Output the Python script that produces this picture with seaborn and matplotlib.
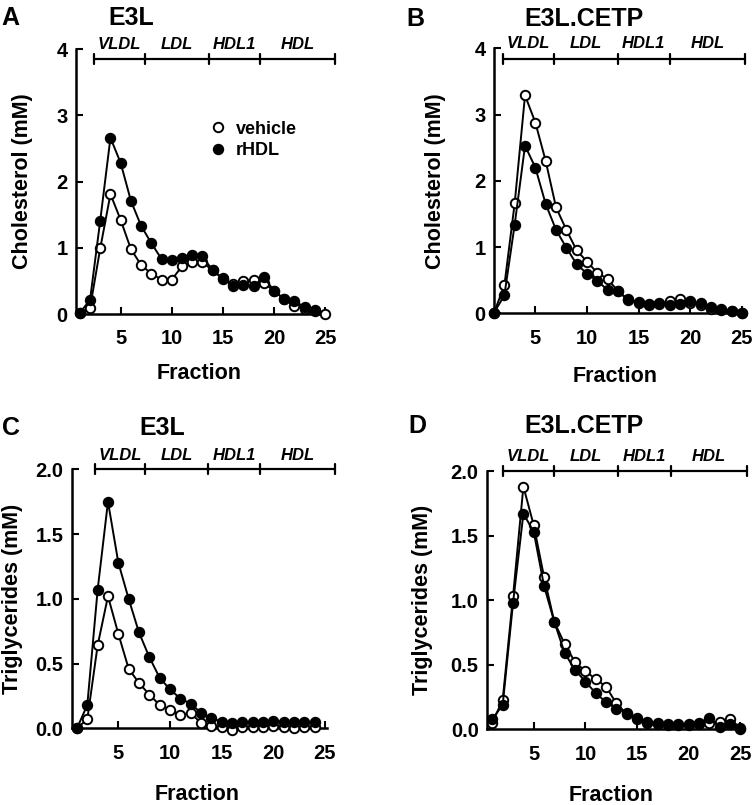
import numpy as np
import pandas as pd
import matplotlib
matplotlib.use("Agg")
import matplotlib.pyplot as plt
from matplotlib.lines import Line2D
import seaborn as sns

# data
frac25 = list(range(1, 26))
frac24 = list(range(1, 25))

# A: E3L cholesterol
chol_e3l_vehicle = [0.02, 0.09, 0.99, 1.81, 1.42, 0.98, 0.74, 0.61, 0.52, 0.52, 0.72, 0.79, 0.78,
                    0.66, 0.53, 0.45, 0.50, 0.52, 0.47, 0.35, 0.23, 0.12, 0.08, 0.04, 0.00]
chol_e3l_rhdl = [0.02, 0.21, 1.41, 2.66, 2.28, 1.71, 1.33, 1.07, 0.83, 0.81, 0.84, 0.89, 0.87,
                 0.66, 0.54, 0.43, 0.44, 0.42, 0.56, 0.35, 0.22, 0.19, 0.11, 0.06]

# B: E3L.CETP cholesterol
chol_cetp_vehicle = [0.01, 0.42, 1.66, 3.29, 2.88, 2.30, 1.60, 1.26, 0.95, 0.78, 0.61, 0.52, 0.33,
                     0.20, 0.16, 0.13, 0.14, 0.18, 0.21, 0.15, 0.12, 0.07, 0.05, 0.03, 0.00]
chol_cetp_rhdl = [0.01, 0.27, 1.34, 2.53, 2.20, 1.65, 1.26, 0.99, 0.74, 0.60, 0.49, 0.35, 0.33,
                  0.21, 0.17, 0.14, 0.15, 0.12, 0.14, 0.18, 0.15, 0.09, 0.06, 0.04, 0.01]

# C: E3L triglycerides
tg_e3l_vehicle = [0.00, 0.07, 0.64, 1.02, 0.73, 0.46, 0.35, 0.26, 0.18, 0.14, 0.10, 0.12, 0.04,
                  0.02, 0.01, -0.01, 0.01, 0.01, 0.01, 0.02, 0.01, 0.00, 0.01, 0.01]
tg_e3l_rhdl = [0.00, 0.18, 1.07, 1.75, 1.28, 1.00, 0.74, 0.55, 0.39, 0.30, 0.23, 0.19, 0.12,
               0.08, 0.05, 0.04, 0.05, 0.05, 0.05, 0.06, 0.05, 0.05, 0.05, 0.05]

# D: E3L.CETP triglycerides
tg_cetp_vehicle = [0.05, 0.23, 1.03, 1.88, 1.58, 1.18, 0.83, 0.66, 0.52, 0.45, 0.39, 0.33, 0.20,
                   0.12, 0.08, 0.05, 0.04, 0.03, 0.03, 0.03, 0.04, 0.05, 0.06, 0.08, 0.01]
tg_cetp_rhdl = [0.08, 0.19, 0.98, 1.67, 1.53, 1.11, 0.83, 0.59, 0.46, 0.37, 0.28, 0.21, 0.16,
                0.13, 0.09, 0.06, 0.05, 0.04, 0.04, 0.04, 0.05, 0.09, 0.02, 0.04, 0.00]

region_names = ["VLDL", "LDL", "HDL1", "HDL"]

sns.set_style("ticks")
plt.rcParams["font.family"] = ["Liberation Sans", "DejaVu Sans"]
plt.rcParams["font.weight"] = "bold"
# pure black text and axes (seaborn defaults to dark grey)
for key in ["text.color", "axes.labelcolor", "xtick.color", "ytick.color", "axes.edgecolor"]:
    plt.rcParams[key] = "black"

fig = plt.figure(figsize=(7.54, 8.05), dpi=100)

# panel settings: axes rect, limits, ticks, bracket edges and heights, text spots
panels = [
    dict(rect=[0.1008, 0.6099, 0.3439, 0.3292], xlim=(0.63, 26.0), ylim=(0, 4),
         yticks=[0, 1, 2, 3, 4], ylabels=["0", "1", "2", "3", "4"],
         bracket=[2.4, 7.4, 13.6, 18.6, 26.0], by=3.85, ly=4.07,
         x1=frac25, y1=chol_e3l_vehicle, x2=frac24, y2=chol_e3l_rhdl,
         ylab="Cholesterol (mM)", letter="A", title="E3L",
         letter_xy=(0.002, 0.978), title_xy=(0.174, 0.978),
         ylab_x=-0.205, xlab_y=-0.185, legend=True),
    dict(rect=[0.6548, 0.6108, 0.3402, 0.3292], xlim=(0.97, 25.8), ylim=(0, 4),
         yticks=[0, 1, 2, 3, 4], ylabels=["0", "1", "2", "3", "4"],
         bracket=[1.9, 6.8, 13.0, 18.0, 25.3], by=3.84, ly=4.07,
         x1=frac25, y1=chol_cetp_vehicle, x2=frac25, y2=chol_cetp_rhdl,
         ylab="Cholesterol (mM)", letter="B", title="E3L.CETP",
         letter_xy=(0.539, 0.976), title_xy=(0.775, 0.976),
         ylab_x=-0.228, xlab_y=-0.2, legend=False),
    dict(rect=[0.0951, 0.0953, 0.3496, 0.3217], xlim=(0.49, 26.0), ylim=(0, 2),
         yticks=[0, 0.5, 1.0, 1.5, 2.0], ylabels=["0.0", "0.5", "1.0", "1.5", "2.0"],
         bracket=[2.7, 7.6, 13.7, 18.7, 26.0], by=2.0, ly=2.11,
         x1=frac24, y1=tg_e3l_vehicle, x2=frac24, y2=tg_e3l_rhdl,
         ylab="Triglycerides (mM)", letter="C", title="E3L",
         letter_xy=(0.003, 0.468), title_xy=(0.215, 0.468),
         ylab_x=-0.225, xlab_y=-0.215, legend=False),
    dict(rect=[0.6459, 0.094, 0.347, 0.3209], xlim=(0.48, 25.8), ylim=(0, 2),
         yticks=[0, 0.5, 1.0, 1.5, 2.0], ylabels=["0.0", "0.5", "1.0", "1.5", "2.0"],
         bracket=[2.0, 6.95, 13.2, 18.25, 25.6], by=2.0, ly=2.11,
         x1=frac25, y1=tg_cetp_vehicle, x2=frac25, y2=tg_cetp_rhdl,
         ylab="Triglycerides (mM)", letter="D", title="E3L.CETP",
         letter_xy=(0.541, 0.471), title_xy=(0.775, 0.471),
         ylab_x=-0.245, xlab_y=-0.215, legend=False),
]

for p in panels:
    ax = fig.add_axes(p["rect"])
    df1 = pd.DataFrame({"fraction": p["x1"], "value": p["y1"]})
    df2 = pd.DataFrame({"fraction": p["x2"], "value": p["y2"]})
    sns.lineplot(data=df1, x="fraction", y="value", ax=ax, color="black", lw=1.4,
                 marker="o", markersize=6.8, markerfacecolor="white",
                 markeredgecolor="black", markeredgewidth=1.4, clip_on=False, zorder=3)
    sns.lineplot(data=df2, x="fraction", y="value", ax=ax, color="black", lw=1.4,
                 marker="o", markersize=6.8, markerfacecolor="black",
                 markeredgecolor="black", markeredgewidth=1.4, clip_on=False, zorder=4)

    ax.set_xlim(*p["xlim"])
    ax.set_ylim(*p["ylim"])
    ax.set_xticks([5, 10, 15, 20, 25])
    ax.set_yticks(p["yticks"])
    ax.set_yticklabels(p["ylabels"])
    for s in ["top", "right"]:
        ax.spines[s].set_visible(False)
    ax.spines["left"].set_linewidth(1.8)
    ax.spines["bottom"].set_linewidth(1.8)
    ax.spines["bottom"].set_bounds(p["xlim"][0], 25.2)
    ax.tick_params(axis="both", direction="in", length=5, width=1.5, labelsize=14.5,
                   color="black", labelcolor="black")
    ax.tick_params(axis="x", pad=11)
    ax.tick_params(axis="y", pad=6)
    for lab in ax.get_xticklabels() + ax.get_yticklabels():
        lab.set_fontweight("bold")

    ax.set_xlabel("Fraction", fontsize=15.5, fontweight="bold", color="black")
    ax.set_ylabel(p["ylab"], fontsize=15.5, fontweight="bold", va="center", color="black")
    ax.xaxis.set_label_coords(0.474, p["xlab_y"])
    ax.yaxis.set_label_coords(p["ylab_x"], 0.5)

    # fraction region bracket
    b = p["bracket"]
    ax.plot([b[0], b[-1]], [p["by"], p["by"]], color="black", lw=1.6, clip_on=False)
    ymin, ymax = ax.get_ylim()
    cap = 0.019 * (ymax - ymin)
    for xb in b:
        ax.plot([xb, xb], [p["by"] - cap, p["by"] + cap], color="black", lw=1.6, clip_on=False)
    for i, name in enumerate(region_names):
        ax.text((b[i] + b[i + 1]) / 2, p["ly"], name, ha="center", va="center",
                fontsize=12, fontweight="bold", fontstyle="italic", color="black", clip_on=False)

    fig.text(p["letter_xy"][0], p["letter_xy"][1], p["letter"], fontsize=18,
             fontweight="bold", va="center", ha="left", color="black")
    fig.text(p["title_xy"][0], p["title_xy"][1], p["title"], fontsize=18,
             fontweight="bold", va="center", ha="center", color="black")

    if p["legend"]:
        handles = [
            Line2D([], [], ls="none", marker="o", markersize=6.8, markerfacecolor="white",
                   markeredgecolor="black", markeredgewidth=1.4),
            Line2D([], [], ls="none", marker="o", markersize=6.8, markerfacecolor="black",
                   markeredgecolor="black", markeredgewidth=1.4),
        ]
        leg = ax.legend(handles, ["vehicle", "rHDL"], loc="upper left", bbox_to_anchor=(0.52, 0.73),
                        frameon=False, handlelength=0.8, handletextpad=0.6, labelspacing=0.25,
                        borderpad=0, borderaxespad=0, prop={"size": 13, "weight": "bold"})
        for t in leg.get_texts():
            t.set_color("black")

fig.savefig("out.png", dpi=100, facecolor="white")
